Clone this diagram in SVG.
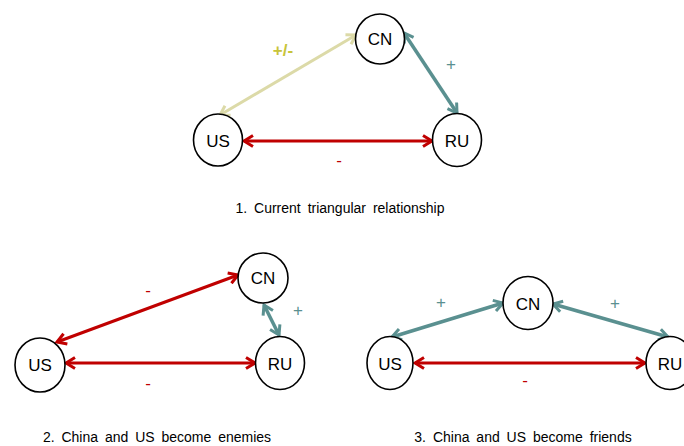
<svg xmlns="http://www.w3.org/2000/svg" width="684" height="446" viewBox="0 0 684 446">
<style>
.node ellipse{fill:#fff;stroke:#000;stroke-width:1.6}
.node text{font-family:"Liberation Sans",Arial,sans-serif;font-size:17px;fill:#000;text-anchor:middle;dominant-baseline:central}
.red{stroke:#c00000;stroke-width:3;fill:none;marker-start:url(#mRed);marker-end:url(#mRed)}
.teal{stroke:#5a9090;stroke-width:3.5;fill:none;marker-start:url(#mTeal);marker-end:url(#mTeal)}
.beige{stroke:#dcdaa8;stroke-width:3;fill:none;marker-start:url(#mBeige);marker-end:url(#mBeige)}
.lbl{font-family:"Liberation Sans",Arial,sans-serif;font-size:17px;text-anchor:middle}
.cap{font-family:"Liberation Sans",Arial,sans-serif;font-size:14px;fill:#000;text-anchor:middle;word-spacing:3px}
</style>
<defs>
<marker id="mRed" markerUnits="userSpaceOnUse" markerWidth="14" markerHeight="14" viewBox="0 0 14 14" refX="12" refY="7" orient="auto-start-reverse"><path d="M3,1.5 L12,7 L3,12.5" fill="none" stroke="#c00000" stroke-width="3"/></marker>
<marker id="mTeal" markerUnits="userSpaceOnUse" markerWidth="14" markerHeight="14" viewBox="0 0 14 14" refX="12" refY="7" orient="auto-start-reverse"><path d="M3,1.5 L12,7 L3,12.5" fill="none" stroke="#5a9090" stroke-width="3"/></marker>
<marker id="mBeige" markerUnits="userSpaceOnUse" markerWidth="14" markerHeight="14" viewBox="0 0 14 14" refX="12" refY="7" orient="auto-start-reverse"><path d="M3,1.5 L12,7 L3,12.5" fill="none" stroke="#dcdaa8" stroke-width="3"/></marker>
</defs>
<rect width="684" height="446" fill="#fff"/>
<g id="connectors">
<line class="beige" x1="220" y1="115" x2="356" y2="35"/>
<line class="teal" x1="404" y1="33" x2="457" y2="113"/>
<line class="red" x1="244" y1="141" x2="432" y2="141"/>
<line class="red" x1="57" y1="342" x2="238" y2="275"/>
<line class="red" x1="66" y1="363" x2="255" y2="363"/>
<line class="teal" x1="264" y1="305" x2="279" y2="335"/>
<line class="teal" x1="392" y1="337" x2="503" y2="303"/>
<line class="teal" x1="553" y1="304" x2="668" y2="337"/>
<line class="red" x1="415" y1="363" x2="645" y2="363"/>
</g>
<g id="labels">
<text class="lbl" x="283" y="56" fill="#c8c43a" font-weight="bold">+/-</text>
<text class="lbl" x="451" y="70" fill="#5a9090">+</text>
<text class="lbl" x="339" y="166" fill="#c00000">-</text>
<text class="lbl" x="148" y="296" fill="#c00000">-</text>
<text class="lbl" x="298" y="316" fill="#5a9090">+</text>
<text class="lbl" x="148" y="389" fill="#c00000">-</text>
<text class="lbl" x="441" y="308" fill="#5a9090">+</text>
<text class="lbl" x="615" y="309" fill="#5a9090">+</text>
<text class="lbl" x="525" y="386" fill="#c00000">-</text>
</g>
<g id="n1-CN" class="node"><ellipse cx="380" cy="39" rx="24.5" ry="25"/><text x="380" y="39">CN</text></g>
<g id="n1-US" class="node"><ellipse cx="218" cy="140" rx="24.5" ry="26"/><text x="218" y="141">US</text></g>
<g id="n1-RU" class="node"><ellipse cx="457" cy="140" rx="24.5" ry="26.5"/><text x="457" y="141">RU</text></g>
<g id="n2-CN" class="node"><ellipse cx="263" cy="278" rx="25" ry="25"/><text x="263" y="278">CN</text></g>
<g id="n2-US" class="node"><ellipse cx="40" cy="365" rx="25" ry="27"/><text x="40" y="365">US</text></g>
<g id="n2-RU" class="node"><ellipse cx="280" cy="363" rx="24.5" ry="26.5"/><text x="280" y="364">RU</text></g>
<g id="n3-CN" class="node"><ellipse cx="528" cy="303" rx="25" ry="26.5"/><text x="528" y="304">CN</text></g>
<g id="n3-US" class="node"><ellipse cx="390" cy="363" rx="23" ry="26.5"/><text x="390" y="364">US</text></g>
<g id="n3-RU" class="node"><ellipse cx="670" cy="363" rx="24" ry="26.5"/><text x="670" y="364">RU</text></g>
<g id="captions">
<text class="cap" x="340" y="213">1. Current triangular relationship</text>
<text class="cap" x="157" y="442">2. China and US become enemies</text>
<text class="cap" x="523" y="442">3. China and US become friends</text>
</g>
</svg>
